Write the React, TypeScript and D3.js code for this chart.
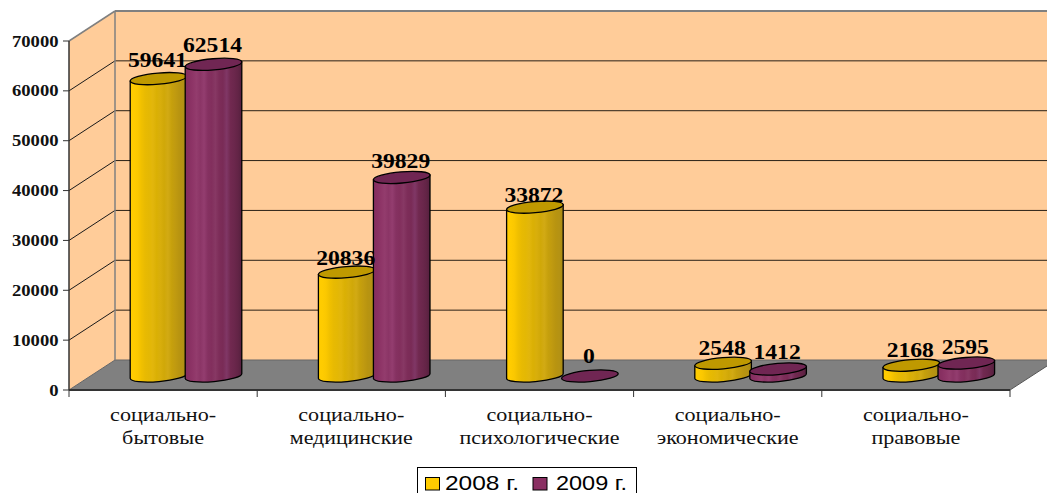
import React from "react";
import * as d3 from "d3";

const categories = [["социально-", "бытовые"], ["социально-", "медицинские"], ["социально-", "психологические"], ["социально-", "экономические"], ["социально-", "правовые"]];
const series2008 = [59641, 20836, 33872, 2548, 2168];
const series2009 = [62514, 39829, 0, 1412, 2595];
const seriesNames = ["2008 г.", "2009 г."];
const ticks = [0, 10000, 20000, 30000, 40000, 50000, 60000, 70000];

const labelLift2008 = [12, 7, 5, 8, 8];
const labelLift2009 = [12, 9, 13, 10, 9];
const catLabelWidths = [[106, 82], [106, 123], [106, 160], [106, 142], [106, 89]];

const yellowStops = ["#ffcc00", "#ffcc00", "#fbc800", "#f0c000", "#e8ba02", "#e4b804", "#e2b60c", "#dab004", "#d8ae0c", "#d0a808", "#d2aa14", "#c6a00c", "#c09a10", "#b89410", "#b49214", "#a88a12"];
const purpleStops = ["#842d5e", "#883062", "#8e3567", "#933c6d", "#8b3566", "#933d6f", "#853161", "#822f5d", "#873864", "#7d2d59", "#792b56", "#803766", "#712950", "#6b274c", "#632446", "#54203e"];

const W = 1047, H = 493;
const DX = 46, DY = -30;
const y = d3.scaleLinear().domain([0, 70000]).range([390, 41]);
const x0 = d3.scaleBand<number>().domain(d3.range(5)).range([69, 1010]);
const BASE = -14;
const RX = 28.4, RY = 5.6, TILT = -5;
const offA = 89.5, offB = 144.5;

function Cyl({ cx, v, fill, top }: { cx: number; v: number; fill: string; top: string }) {
  const base = y(0) + BASE;
  const t = base - (y(0) - y(v));
  const a = (TILT * Math.PI) / 180;
  const dx = RX * Math.cos(a), dy = RX * Math.sin(a);
  const side = `M${cx - dx},${t - dy} L${cx - dx},${base - dy} A${RX},${RY} ${TILT} 0 0 ${cx + dx},${base + dy} L${cx + dx},${t + dy} Z`;
  return (
    <g stroke="#000" strokeWidth={1.3}>
      {v > 0 && <path d={side} fill={fill} />}
      <ellipse cx={0} cy={0} rx={RX} ry={RY} fill={top} transform={`translate(${cx},${t}) rotate(${TILT})`} />
    </g>
  );
}

export default function App() {
  const serif = "'Liberation Serif', serif";
  const sans = "'Liberation Sans', sans-serif";
  const bw = x0.bandwidth();
  const topY = (v: number) => y(0) + BASE - (y(0) - y(v));
  return (
    <svg width={W} height={H} style={{ position: "absolute", left: 0, top: 0, background: "#fff" }}>
      <defs>
        {[["gy", yellowStops], ["gp", purpleStops]].map(([id, s]) => (
          <linearGradient key={id as string} id={id as string} x1="0" x2="1" y1="0" y2="0">
            {(s as string[]).map((c, i, arr) => <stop key={i} offset={i / (arr.length - 1)} stopColor={c} />)}
          </linearGradient>
        ))}
      </defs>
      {/* walls */}
      <path d={`M69,${y(0)} L${69 + DX},${y(0) + DY} L${69 + DX},${y(70000) + DY} L69,${y(70000)} Z`} fill="#ffcc99" />
      <rect x={69 + DX} y={y(70000) + DY} width={W - 69 - DX} height={y(0) - y(70000)} fill="#ffcc99" />
      {/* floor */}
      <path d={`M69,${y(0)} L${69 + DX},${y(0) + DY} L${W},${y(0) + DY} L${W},${y(0) + DY + 6} L1010,${y(0)} Z`} fill="#808080" />
      {/* gridlines */}
      {ticks.map(t => (
        <g key={t} fill="none">
          {t > 0 && <path d={`M69,${y(t)} L${69 + DX},${y(t) + DY}`} stroke={t === 70000 ? "#808080" : "#1a1a1a"} strokeWidth={t === 70000 ? 1.5 : 1} />}
          <path d={`M${69 + DX},${y(t) + DY} H${W}`} stroke={t === 70000 ? "#808080" : t === 0 ? "#666" : "#2a2016"} strokeWidth={t === 70000 ? 2 : 1} />
        </g>
      ))}
      <path d={`M${69 + DX},${y(70000) + DY} V${y(0) + DY}`} stroke="#808080" strokeWidth={1.5} />
      <path d={`M69,${y(0)} L${69 + DX},${y(0) + DY}`} stroke="#666" strokeWidth={1} />
      <path d={`M1010,${y(0)} L${W},${y(0) + DY + 6}`} stroke="#555" strokeWidth={1} />
      {/* axes */}
      <path d={`M69,${y(70000)} V${y(0)}`} stroke="#333" strokeWidth={1.5} />
      <path d={`M69,${y(0)} H1010`} stroke="#333" strokeWidth={2} />
      {ticks.map(t => (
        <g key={t}>
          <line x1={63} x2={69} y1={y(t)} y2={y(t)} stroke="#333" />
          <text x={58.5} y={y(t) + 5.5} textAnchor="end" fontFamily={serif} fontWeight="bold" fontSize={16.5} fill="#111"
            textLength={String(t).length * 9.3} lengthAdjust="spacingAndGlyphs">{t}</text>
        </g>
      ))}
      {d3.range(6).map(i => (
        <line key={i} x1={69 + i * bw} x2={69 + i * bw} y1={y(0)} y2={y(0) + 7} stroke="#333" />
      ))}
      {/* cylinders */}
      {categories.map((c, i) => (
        <g key={i}>
          <Cyl cx={x0(i)! + offA} v={series2008[i]} fill="url(#gy)" top="#bf9900" />
          <Cyl cx={x0(i)! + offB} v={series2009[i]} fill="url(#gp)" top="#702653" />
        </g>
      ))}
      {/* data labels */}
      {categories.map((c, i) => {
        const props = { textAnchor: "middle" as const, lengthAdjust: "spacingAndGlyphs" };
        return (
          <g key={i} fontFamily={serif} fontWeight="bold" fontSize={21} fill="#000">
            <text {...props} x={x0(i)! + offA - 1} y={topY(series2008[i]) - labelLift2008[i]} textLength={String(series2008[i]).length * 11.8}>{series2008[i]}</text>
            <text {...props} x={x0(i)! + offB - 1} y={topY(series2009[i]) - labelLift2009[i]} textLength={String(series2009[i]).length * 11.8}>{series2009[i]}</text>
          </g>
        );
      })}
      {/* category labels */}
      {categories.map((c, i) => {
        const cx = x0(i)! + bw / 2;
        return (
          <g key={i} textAnchor="middle" fontFamily={serif} fontSize={19} fill="#111">
            <text x={cx} y={421} textLength={catLabelWidths[i][0]} lengthAdjust="spacingAndGlyphs">{c[0]}</text>
            <text x={cx} y={444} textLength={catLabelWidths[i][1]} lengthAdjust="spacingAndGlyphs">{c[1]}</text>
          </g>
        );
      })}
      {/* legend */}
      <rect x={417.5} y={467.5} width={219} height={27} fill="#fff" stroke="#000" />
      <rect x={425.5} y={477.5} width={14} height={12.5} fill="#ffcc00" stroke="#000" />
      <text x={445} y={490} fontFamily={sans} fontSize={20.5} fill="#000" textLength={74} lengthAdjust="spacingAndGlyphs">{seriesNames[0]}</text>
      <rect x={533} y={477.5} width={14} height={12.5} fill="#8a2f62" stroke="#000" />
      <text x={556} y={490} fontFamily={sans} fontSize={20.5} fill="#000" textLength={71} lengthAdjust="spacingAndGlyphs">{seriesNames[1]}</text>
    </svg>
  );
}
